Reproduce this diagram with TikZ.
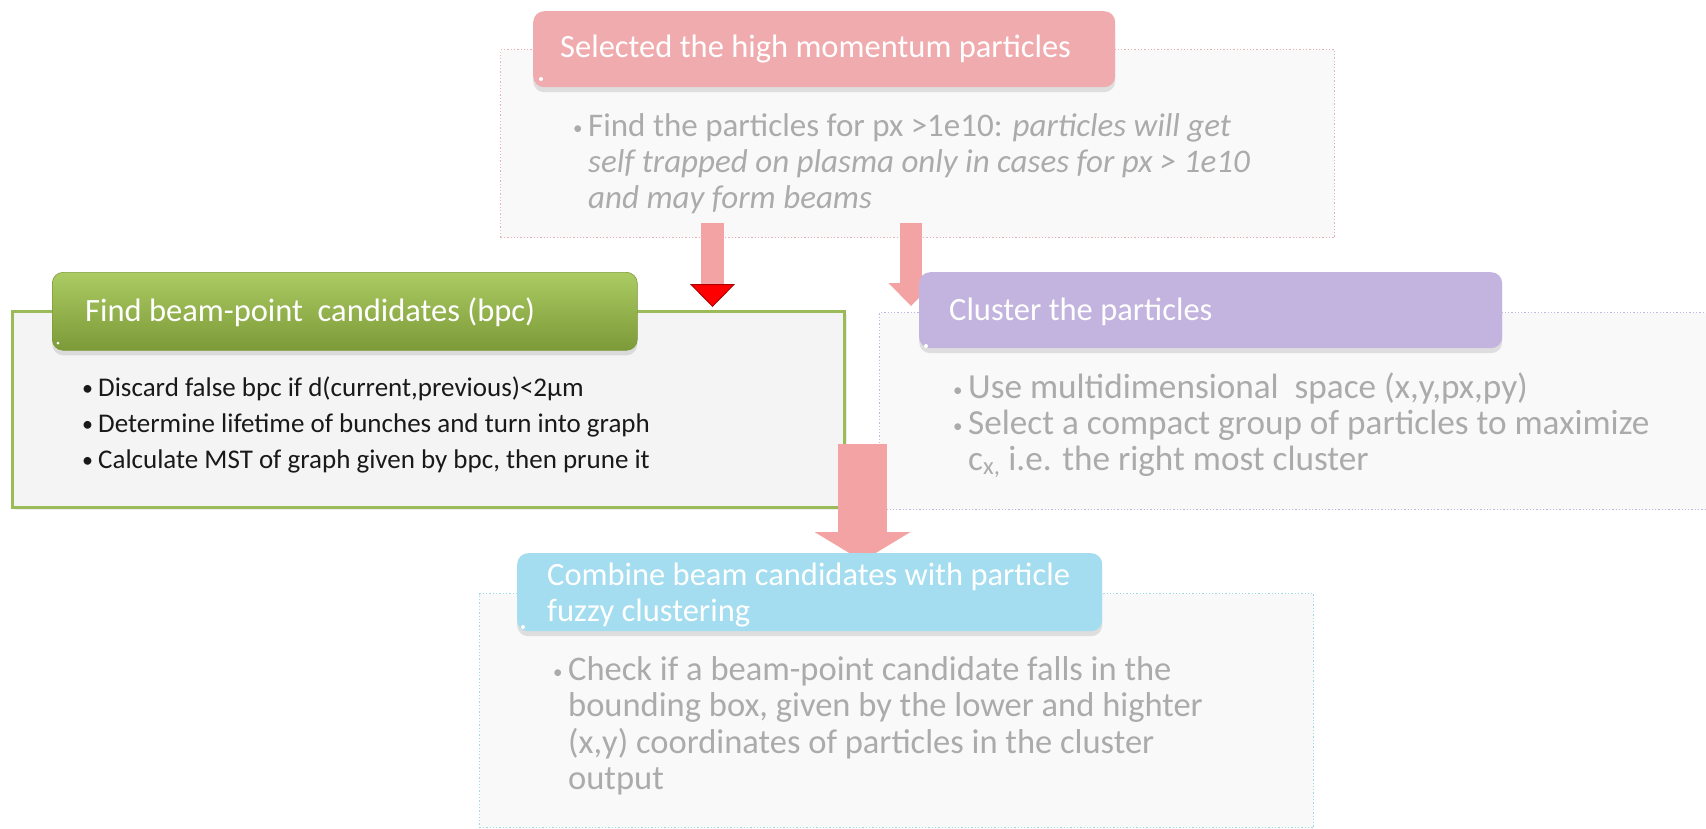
\documentclass[tikz,border=0pt]{standalone}
\usepackage{fontspec}
\setmainfont{Carlito}
\usetikzlibrary{shadows,arrows.meta}
\definecolor{grnTop}{HTML}{ABCB63}
\definecolor{grnBot}{HTML}{7C9A38}
\definecolor{grnLine}{HTML}{9BBB59}
\definecolor{redHdr}{HTML}{F0ABAF}
\definecolor{purHdr}{HTML}{C3B4DF}
\definecolor{cyaHdr}{HTML}{A3DDEF}
\definecolor{redEdge}{HTML}{E3B3B6}
\definecolor{purEdge}{HTML}{C4B6DE}
\definecolor{cyaEdge}{HTML}{A2D9E8}
\definecolor{fadeTxt}{HTML}{ABABAB}
\definecolor{fadeArr}{HTML}{F4A3A5}
\definecolor{solidRed}{HTML}{FF0000}
\definecolor{darkRed}{HTML}{B00000}
% bullet for the solid list
\newcommand{\bltA}{\makebox[13pt][l]{\hspace{-3pt}\raisebox{0.5pt}{\fontsize{22}{22}\selectfont •}}}
% bullet for the faded lists
\newcommand{\bltB}{\makebox[15pt][l]{\raisebox{2pt}{\fontsize{19}{19}\selectfont •}}}
\newcommand{\indB}{\hspace*{15pt}}
\begin{document}
\begin{tikzpicture}[x=1pt,y=-1pt,
  panelfaded/.style={draw, dotted, line width=1.3pt, fill=white!97.5!black, anchor=north west, inner sep=0pt},
  panelsolid/.style={draw=grnLine, line width=2.8pt, fill=white!95.5!black, anchor=north west, inner sep=0pt,
     drop shadow={shadow xshift=3pt, shadow yshift=-3pt, opacity=0.15}},
  hdrbox/.style={rounded corners=11pt, anchor=north west, inner sep=0pt,
     drop shadow={shadow xshift=0pt, shadow yshift=-5pt, opacity=0.22}},
  hdrtext/.style={text=white, font=\fontsize{32.5}{36}\selectfont, anchor=west, inner sep=0pt, align=left},
  bodytext/.style={font=\fontsize{27}{36}\selectfont, anchor=north west, inner sep=0pt, align=left},
  fadebody/.style={text=fadeTxt, font=\fontsize{#1}{36}\selectfont, anchor=north west, inner sep=0pt, align=left},
  dot/.style={circle, fill=white, inner sep=0pt, minimum size=4pt},
  fadearrow/.style={draw=fadeArr, line width=#1, -{Triangle[width=45pt,length=23pt,line width=0pt,color=fadeArr,fill=fadeArr]}},
]
\useasboundingbox (0,0) rectangle (1706,828);
\fill[white] (0,0) rectangle (1706,828);

% ---------- panels ----------
\node[panelfaded, draw=redEdge, minimum width=834pt, minimum height=188pt] (toppanel) at (500,49) {};
\node[panelsolid, minimum width=832pt, minimum height=196pt] (leftpanel) at (11,310) {};
\node[panelfaded, draw=purEdge, minimum width=840pt, minimum height=197pt] (rightpanel) at (879,312) {};
\node[panelfaded, draw=cyaEdge, minimum width=834pt, minimum height=234pt] (botpanel) at (479,593) {};

% ---------- arrows ----------
\coordinate (a1s) at (712.5,223);
\coordinate (a1e) at (712.5,307);
\coordinate (a2s) at (911,223);
\coordinate (a2e) at (911,306);
\coordinate (a3s) at (862.5,444);
\coordinate (a3e) at (862.5,561);
\draw[draw=fadeArr, line width=23pt,
  -{Triangle[width=45pt,length=23pt,line width=1pt,color=darkRed,fill=solidRed]}] (a1s) -- (a1e);
\draw[fadearrow=22pt] (a2s) -- (a2e);
\draw[draw=fadeArr, line width=49pt,
  -{Triangle[width=96pt,length=29pt,line width=0pt,color=fadeArr,fill=fadeArr]}] (a3s) -- (a3e);

% ---------- headers ----------
\node[hdrbox, fill=redHdr, minimum width=582pt, minimum height=76pt] (tophdr) at (533,11) {};
\node[hdrbox, top color=grnTop, bottom color=grnBot, draw=grnBot, line width=0.6pt, minimum width=585pt, minimum height=78pt] (lefthdr) at (52,272) {};
\node[hdrbox, fill=purHdr, minimum width=583pt, minimum height=76pt] (righthdr) at (919,272) {};
\node[hdrbox, fill=cyaHdr, minimum width=585pt, minimum height=78pt] (bothdr) at (517,553) {};

\node[dot] (d1) at (541,79) {};
\node[dot, minimum size=3pt] (d2) at (58,343) {};
\node[dot] (d3) at (926,346) {};
\node[dot] (d4) at (523,627) {};

% ---------- header texts ----------
\node[hdrtext] (toptitle) at (560,49) {Selected the high momentum particles};
\node[hdrtext] (lefttitle) at (85,312) {Find beam-point\ \ candidates (bpc)};
\node[hdrtext] (righttitle) at (949,312) {Cluster the particles};
\node[hdrtext] (bottitle) at (547,595) {Combine beam candidates with particle\\fuzzy clustering};

% ---------- body texts ----------
\node[fadebody=33] (topbody) at (573,111) {%
\strut\bltB Find the particles for px >1e10: \textit{particles will get}\\
\strut\indB\textit{self trapped on plasma only in cases for px > 1e10}\\
\strut\indB\textit{and may form beams}};

\node[bodytext, text=black!90] (leftbody) at (85,371) {%
\strut\bltA Discard false bpc if d(current,previous)<2µm\\
\strut\bltA Determine lifetime of bunches and turn into graph\\
\strut\bltA Calculate MST of graph given by bpc, then prune it};

\node[fadebody=35.2] (rightbody) at (953,373) {%
\strut\bltB Use multidimensional\ \ space (x,y,px,py)\\
\strut\bltB Select a compact group of particles to maximize\\
\strut\indB c\textsubscript{x,} i.e. the right most cluster};

\node[fadebody=34.5] (botbody) at (553,655) {%
\strut\bltB Check if a beam-point candidate falls in the\\
\strut\indB bounding box, given by the lower and highter\\
\strut\indB (x,y) coordinates of particles in the cluster\\
\strut\indB output};
\end{tikzpicture}
\end{document}
